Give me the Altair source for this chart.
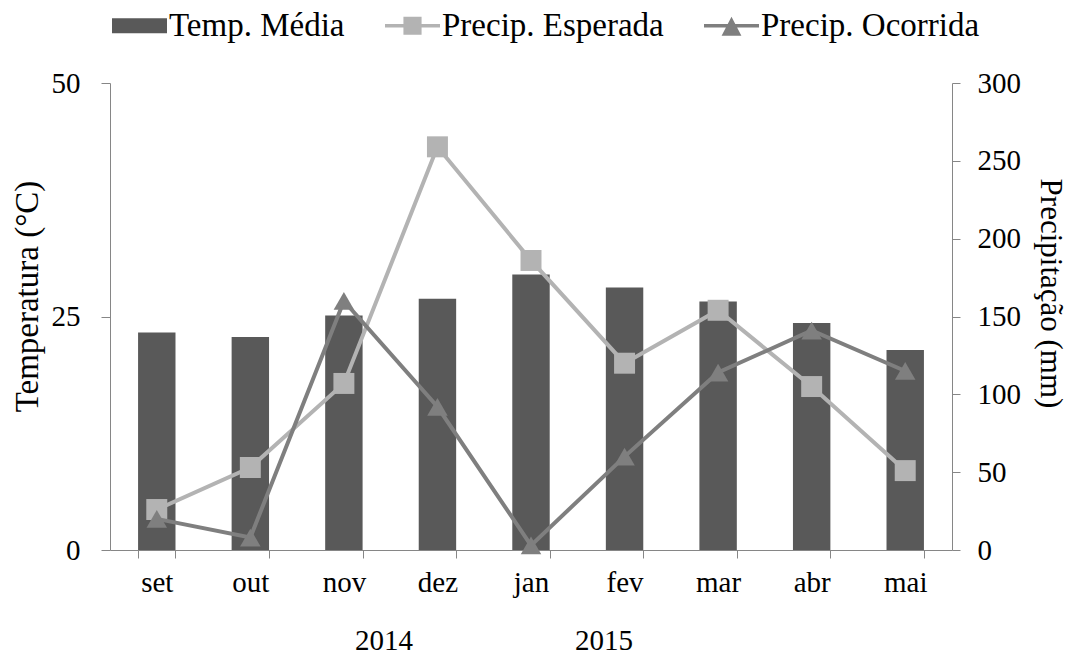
import altair as alt
import pandas as pd

months = ["set", "out", "nov", "dez", "jan", "fev", "mar", "abr", "mai"]
temp_media = [23.3, 22.8, 25.1, 26.9, 29.5, 28.1, 26.6, 24.3, 21.4]
precip_esperada = [26, 53, 107, 259, 186, 120, 154, 105, 51]
precip_ocorrida = [20, 8, 160, 92, 3, 60, 114, 141, 115]

series = ["Temp. Média", "Precip. Esperada", "Precip. Ocorrida"]
series_colors = ["#595959", "#b3b3b3", "#7f7f7f"]
legend_paths = [
    "M-1,-0.27H1V0.27H-1Z",
    "M-1,-0.065H1V0.065H-1Z M-0.33,-0.33H0.33V0.33H-0.33Z",
    "M-1,-0.065H1V0.065H-1Z M-0.36,0.36L0,-0.33L0.36,0.36Z",
]

years = ["2014", "2015"]
year_anchor = ["nov", "jan"]

FONT = "Liberation Serif"
AX = "#868686"

df = pd.DataFrame({"mes": months, "temp": temp_media,
                   "esp": precip_esperada, "oco": precip_ocorrida})


def xenc():
    return alt.X("mes:N", sort=months,
                 scale=alt.Scale(paddingInner=0.6, paddingOuter=0.3),
                 axis=alt.Axis(title=None, labelAngle=0, tickBand="extent",
                               labelPadding=10, tickSize=8,
                               labelFont=FONT, labelFontSize=29))


left_axis = alt.Axis(values=[0, 25, 50], title="Temperatura (°C)", tickSize=9,
                     labelPadding=21, titleAngle=-90, titleX=-83, titleY=213,
                     titleAlign="center", titleBaseline="middle",
                     titleFont=FONT, titleFontSize=33, titleFontWeight="normal",
                     labelFont=FONT, labelFontSize=29)

bars = alt.Chart(df).mark_bar(color=series_colors[0]).encode(
    x=xenc(),
    y=alt.Y("temp:Q", scale=alt.Scale(domain=[0, 50], nice=False), axis=left_axis),
)


def right_axis():
    return alt.Axis(orient="right", values=[0, 50, 100, 150, 200, 250, 300],
                    title="Precipitação (mm)", tickSize=8, labelPadding=17,
                    titleAngle=90, titleX=97, titleY=210,
                    titleAlign="center", titleBaseline="middle",
                    titleFont=FONT, titleFontSize=31, titleFontWeight="normal",
                    labelFont=FONT, labelFontSize=29)


def yp(field):
    return alt.Y(f"{field}:Q", scale=alt.Scale(domain=[0, 300], nice=False),
                 axis=right_axis())


base = alt.Chart(df)
esp_line = base.mark_line(color=series_colors[1], strokeWidth=4).encode(x=xenc(), y=yp("esp"))
esp_pts = base.mark_point(shape="square", filled=True, size=440, opacity=1,
                          color=series_colors[1]).encode(x=xenc(), y=yp("esp"))
oco_line = base.mark_line(color=series_colors[2], strokeWidth=4).encode(x=xenc(), y=yp("oco"))
oco_pts = base.mark_point(shape="triangle-up", filled=True, size=420, opacity=1,
                          color=series_colors[2]).encode(x=xenc(), y=yp("oco"))

precip = alt.layer(esp_line, esp_pts, oco_line, oco_pts)

leg_props = dict(title=None, orient="none", legendX=2, legendY=-85,
                 direction="horizontal", symbolSize=3025, symbolStrokeWidth=0,
                 symbolOpacity=1, labelLimit=0,
                 labelFont=FONT, labelFontSize=33, labelColor="black",
                 labelOffset=2, columnPadding=40, padding=0)

legend_layer = alt.Chart(pd.DataFrame({"serie": series})).mark_point(
    filled=True, opacity=0
).encode(
    x=alt.value(0), y=alt.value(0),
    color=alt.Color("serie:N", sort=series,
                    scale=alt.Scale(domain=series, range=series_colors),
                    legend=alt.Legend(**leg_props)),
    shape=alt.Shape("serie:N", sort=series,
                    scale=alt.Scale(domain=series, range=legend_paths),
                    legend=alt.Legend(**leg_props)),
)

ydf = pd.DataFrame({"mes": year_anchor, "ano": years})
y2014 = alt.Chart(ydf.iloc[[0]]).mark_text(font=FONT, fontSize=29, color="black",
                                           dx=40, baseline="middle").encode(
    x=xenc(), y=alt.value(558), text="ano:N")
y2015 = alt.Chart(ydf.iloc[[1]]).mark_text(font=FONT, fontSize=29, color="black",
                                           dx=73, baseline="middle").encode(
    x=xenc(), y=alt.value(558), text="ano:N")

chart = alt.layer(bars, precip, y2014, y2015, legend_layer).resolve_scale(
    y="independent"
).properties(
    width=842, height=467,
    autosize=alt.AutoSizeParams(type="none"),
    padding={"left": 110, "top": 83, "right": 115, "bottom": 107},
    background="white",
).configure_view(stroke=None).configure_axis(
    labelFont=FONT, labelFontSize=29, labelColor="black",
    titleFont=FONT, titleFontSize=31, titleColor="black", titleFontWeight="normal",
    domainColor=AX, tickColor=AX, grid=False,
).configure_legend(labelFont=FONT, labelLimit=0, symbolOpacity=1)

chart.save("out.html", embed_options={"renderer": "svg", "actions": False})
